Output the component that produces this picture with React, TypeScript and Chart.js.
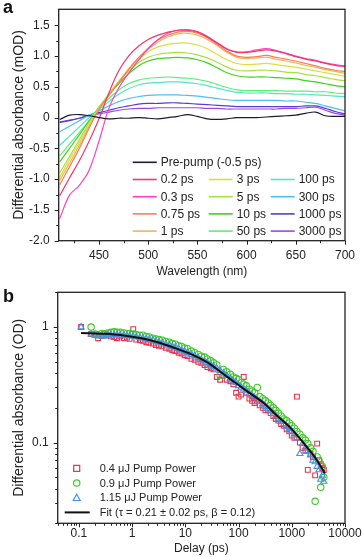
import React, { useEffect, useRef } from "react";
import { Chart, registerables } from "chart.js";
Chart.register(...registerables);

const FONT = "'Liberation Sans', Arial, sans-serif";

// ---------- Panel a: transient spectra ----------
const wavelengths = [410, 420, 430, 440, 450, 460, 470, 480, 490, 500, 510, 520, 530, 540, 550, 560, 570, 580, 590, 600, 610, 620, 630, 640, 650, 660, 670, 680, 690, 700];
const prePump = [-0.03, 0.04, 0.05, 0.03, 0.0, -0.02, -0.01, -0.01, 0.0, -0.01, -0.02, 0.0, 0.02, 0.05, 0.02, -0.02, -0.03, -0.02, 0.0, 0.0, 0.0, 0.01, 0.02, 0.03, 0.04, 0.07, 0.09, 0.03, 0.02, 0.02];
const ps0_2 = [-1.27, -0.98, -0.7, -0.38, -0.02, 0.4, 0.76, 1.0, 1.16, 1.27, 1.34, 1.39, 1.42, 1.42, 1.39, 1.31, 1.21, 1.11, 1.06, 1.06, 1.08, 1.1, 1.08, 1.04, 0.99, 0.95, 0.92, 0.88, 0.85, 0.83];
const ps0_3 = [-1.64, -1.26, -1.1, -0.85, -0.38, 0.15, 0.48, 0.72, 0.93, 1.12, 1.27, 1.37, 1.42, 1.43, 1.4, 1.32, 1.22, 1.12, 1.07, 1.07, 1.1, 1.12, 1.09, 1.05, 1.0, 0.96, 0.93, 0.89, 0.86, 0.84];
const ps0_75 = [-1.09, -0.8, -0.5, -0.17, 0.14, 0.36, 0.57, 0.78, 0.97, 1.13, 1.26, 1.34, 1.39, 1.4, 1.37, 1.3, 1.19, 1.08, 1.0, 0.98, 0.99, 1.01, 0.98, 0.95, 0.92, 0.88, 0.84, 0.8, 0.77, 0.75];
const ps1 = [-1.02, -0.74, -0.45, -0.14, 0.15, 0.37, 0.58, 0.79, 0.97, 1.11, 1.23, 1.31, 1.36, 1.37, 1.34, 1.27, 1.17, 1.06, 0.98, 0.96, 0.97, 0.98, 0.95, 0.92, 0.89, 0.85, 0.82, 0.78, 0.75, 0.72];
const ps3 = [-0.97, -0.68, -0.4, -0.11, 0.16, 0.38, 0.59, 0.78, 0.94, 1.07, 1.15, 1.19, 1.21, 1.21, 1.18, 1.12, 1.03, 0.94, 0.88, 0.86, 0.87, 0.88, 0.86, 0.84, 0.82, 0.79, 0.76, 0.73, 0.7, 0.67];
const ps5 = [-0.9, -0.63, -0.36, -0.08, 0.17, 0.38, 0.58, 0.75, 0.89, 0.98, 1.03, 1.05, 1.06, 1.05, 1.02, 0.97, 0.9, 0.82, 0.77, 0.76, 0.77, 0.77, 0.76, 0.74, 0.73, 0.7, 0.68, 0.65, 0.62, 0.6];
const ps10 = [-0.72, -0.5, -0.28, -0.05, 0.17, 0.37, 0.55, 0.71, 0.84, 0.92, 0.96, 0.97, 0.98, 0.97, 0.94, 0.89, 0.81, 0.73, 0.68, 0.66, 0.66, 0.66, 0.65, 0.64, 0.63, 0.6, 0.58, 0.55, 0.52, 0.5];
const ps50 = [-0.62, -0.43, -0.24, -0.05, 0.14, 0.31, 0.45, 0.55, 0.61, 0.64, 0.65, 0.66, 0.65, 0.64, 0.62, 0.59, 0.54, 0.49, 0.45, 0.44, 0.44, 0.44, 0.44, 0.43, 0.43, 0.43, 0.42, 0.42, 0.4, 0.39];
const ps100 = [-0.45, -0.3, -0.15, 0.0, 0.13, 0.26, 0.38, 0.47, 0.53, 0.56, 0.57, 0.58, 0.58, 0.57, 0.55, 0.52, 0.48, 0.44, 0.41, 0.4, 0.4, 0.4, 0.39, 0.39, 0.38, 0.38, 0.37, 0.36, 0.35, 0.34];
const ps300 = [-0.23, -0.14, -0.05, 0.04, 0.11, 0.19, 0.26, 0.31, 0.34, 0.36, 0.37, 0.37, 0.37, 0.36, 0.35, 0.33, 0.31, 0.29, 0.28, 0.28, 0.28, 0.28, 0.28, 0.27, 0.27, 0.25, 0.23, 0.19, 0.15, 0.11];
const ps1000 = [-0.08, -0.05, -0.01, 0.04, 0.08, 0.12, 0.16, 0.19, 0.22, 0.23, 0.23, 0.24, 0.24, 0.23, 0.22, 0.21, 0.2, 0.19, 0.18, 0.18, 0.18, 0.18, 0.18, 0.18, 0.18, 0.19, 0.19, 0.15, 0.1, 0.06];
const ps3000 = [-0.07, -0.04, -0.01, 0.03, 0.06, 0.09, 0.12, 0.14, 0.15, 0.15, 0.16, 0.16, 0.16, 0.16, 0.16, 0.15, 0.15, 0.14, 0.14, 0.14, 0.14, 0.14, 0.14, 0.15, 0.15, 0.16, 0.17, 0.12, 0.07, 0.04];

const spectraLabels = ["Pre-pump (-0.5 ps)", "0.2 ps", "0.3 ps", "0.75 ps", "1 ps", "3 ps", "5 ps", "10 ps", "50 ps", "100 ps", "300 ps", "1000 ps", "3000 ps"];
const spectraValues = [prePump, ps0_2, ps0_3, ps0_75, ps1, ps3, ps5, ps10, ps50, ps100, ps300, ps1000, ps3000];
const spectraColors = ["#1b1b33", "#f0386b", "#ff3fc4", "#f5834f", "#efb55a", "#dede3a", "#a6e23c", "#3fd31a", "#5cf07a", "#50e8c0", "#4cc0ee", "#5a3ad0", "#9a48e8"];
const wavelengthTicks = [450, 500, 550, 600, 650, 700];
const wavelengthMinor = [425, 475, 525, 575, 625, 675];
const absTicks = [-2.0, -1.5, -1.0, -0.5, 0, 0.5, 1.0, 1.5];
const absMinor = [-1.75, -1.25, -0.75, -0.25, 0.25, 0.75, 1.25];

// ---------- Panel b: decay kinetics ----------
const delays = [
  0.11, 0.14, 0.17, 0.2, 0.23, 0.27, 0.3, 0.35, 0.4, 0.46,
  0.52, 0.6, 0.7, 0.8, 0.9, 1.05, 1.2, 1.4, 1.6, 1.85,
  2.1, 2.45, 2.8, 3.2, 3.7, 4.3, 5, 5.7, 6.5, 7.5,
  8.5, 9.7, 11, 13, 15, 17.5, 20, 23, 26, 30,
  34, 39, 45, 52, 60, 70, 80, 90, 100, 112,
  125, 140, 160, 180, 200, 225, 250, 285, 320, 360,
  400, 450, 500, 560, 630, 710, 800, 900, 1000, 1120,
  1250, 1420, 1600, 1800, 2000, 2250, 2500, 2750, 3000, 3250,
  3500, 3750, 4000,
];
const power04 = [
  1.0, null, 0.87, 0.86, 0.8, 0.84, 0.88, 0.86, 0.83, 0.82,
  0.8, 0.83, 0.8, 0.81, 0.79, 0.96, 0.78, 0.77, 0.76, 0.74,
  0.73, 0.72, 0.7, 0.69, 0.68, 0.66, 0.65, 0.63, 0.62, 0.6,
  0.59, 0.57, 0.56, 0.53, 0.52, 0.5, 0.49, 0.47, 0.45, 0.44,
  0.43, 0.37, 0.35, 0.38, 0.35, 0.34, 0.32, 0.27, 0.25, 0.26,
  0.37, 0.27, 0.24, 0.23, 0.22, 0.23, 0.21, 0.2, 0.19, 0.19,
  0.18, 0.17, 0.16, 0.155, 0.145, 0.14, 0.13, 0.125, 0.115, 0.11,
  0.25, 0.1, 0.09, 0.085, 0.058, 0.08, 0.075, 0.052, 0.098, 0.07,
  0.065, 0.06, 0.058,
];
const power09 = [
  null, null, 1.0, 0.87, 0.86, 0.88, 0.87, 0.89, 0.9, 0.91,
  0.9, 0.9, 0.89, 0.88, 0.88, 0.87, 0.86, 0.85, 0.85, 0.83,
  0.82, 0.8, 0.79, 0.78, 0.77, 0.75, 0.74, 0.72, 0.71, 0.69,
  0.68, 0.66, 0.65, 0.62, 0.6, 0.58, 0.56, 0.55, 0.53, 0.51,
  0.49, 0.47, 0.38, 0.43, 0.41, 0.39, 0.37, 0.36, 0.35, 0.33,
  0.32, 0.31, 0.29, 0.28, 0.27, 0.3, 0.25, 0.24, 0.23, 0.22,
  0.21, 0.2, 0.19, 0.18, 0.17, 0.16, 0.155, 0.148, 0.14, 0.133,
  0.125, 0.118, 0.11, 0.105, 0.098, 0.09, 0.084, 0.031, 0.075, 0.07,
  0.041, 0.062, 0.05,
];
const power115 = [
  1.0, null, 0.87, 0.85, 0.84, 0.84, 0.83, 0.85, 0.86, 0.85,
  0.86, 0.85, 0.85, 0.84, 0.84, 0.83, 0.82, 0.81, 0.8, 0.79,
  0.78, 0.77, 0.75, 0.74, 0.73, 0.71, 0.7, 0.68, 0.67, 0.65,
  0.63, 0.62, 0.6, 0.58, 0.56, 0.54, 0.52, 0.51, 0.49, 0.47,
  0.455, 0.44, 0.42, 0.4, 0.38, 0.36, 0.34, 0.33, 0.31, 0.3,
  0.29, 0.28, 0.265, 0.255, 0.245, 0.235, 0.225, 0.215, 0.205, 0.195,
  0.188, 0.178, 0.17, 0.16, 0.152, 0.145, 0.138, 0.132, 0.125, 0.118,
  0.11, 0.08, 0.098, 0.09, 0.085, 0.078, 0.07, 0.068, 0.062, 0.058,
  0.048, 0.052, 0.046,
];
const fitDelays = [0.11, 0.3, 0.65, 1.5, 2.8, 6, 12, 25, 67, 150, 290, 500, 917, 1900, 3000, 4200];
const fitValues = [0.89, 0.875, 0.85, 0.8, 0.745, 0.665, 0.59, 0.5, 0.36, 0.275, 0.222, 0.175, 0.136, 0.092, 0.07, 0.054];
const delayTicks = [0.1, 1, 10, 100, 1000, 10000];
const odTicks = [0.1, 1];

function minorLog(min: number, max: number) {
  const out: number[] = [];
  for (let d = 0.01; d <= 10000; d *= 10) {
    for (let k = 2; k <= 9; k++) {
      const v = +(k * d).toPrecision(3);
      if (v >= min && v <= max) out.push(v);
    }
  }
  return out;
}

function framePlugin(majX: number[], minX: number[], majY: number[], minY: number[]) {
  return {
    id: "frame",
    afterDraw(chart: any) {
      const { ctx, chartArea, scales } = chart;
      const { left, top, right, bottom } = chartArea;
      ctx.save();
      ctx.strokeStyle = "#222";
      ctx.lineWidth = 1.3;
      ctx.strokeRect(left, top, right - left, bottom - top);
      ctx.lineWidth = 1;
      const tx = (v: number, len: number) => {
        const p = Math.round(scales.x.getPixelForValue(v)) + 0.5;
        ctx.beginPath();
        ctx.moveTo(p, bottom);
        ctx.lineTo(p, bottom + len);
        ctx.stroke();
      };
      const ty = (v: number, len: number) => {
        const p = Math.round(scales.y.getPixelForValue(v)) + 0.5;
        ctx.beginPath();
        ctx.moveTo(left, p);
        ctx.lineTo(left - len, p);
        ctx.stroke();
      };
      majX.forEach((v) => tx(v, 4));
      minX.forEach((v) => tx(v, 2.5));
      majY.forEach((v) => ty(v, 4));
      minY.forEach((v) => ty(v, 2.5));
      ctx.restore();
    },
  };
}

function spectraLegend() {
  return {
    id: "spectraLegend",
    afterDraw(chart: any) {
      const { ctx, chartArea } = chart;
      const x0 = chartArea.left;
      const y0 = chartArea.top;
      const cols = [74, 150, 212];
      const rowH = 17.2;
      const slots: [number, number][] = [
        [0, 0], [0, 1], [0, 2], [0, 3], [0, 4],
        [1, 1], [1, 2], [1, 3], [1, 4],
        [2, 1], [2, 2], [2, 3], [2, 4],
      ];
      ctx.save();
      ctx.font = `12px ${FONT}`;
      ctx.textBaseline = "middle";
      ctx.fillStyle = "#222";
      spectraLabels.forEach((label, i) => {
        const [c, r] = slots[i];
        const lx = x0 + cols[c];
        const ly = y0 + 153 + r * rowH;
        ctx.strokeStyle = spectraColors[i];
        ctx.lineWidth = 1.6;
        ctx.beginPath();
        ctx.moveTo(lx, ly);
        ctx.lineTo(lx + 24, ly);
        ctx.stroke();
        ctx.fillText(label, lx + 28, ly + 0.5);
      });
      ctx.restore();
    },
  };
}

const decayLabels = ["0.4 \u03bcJ Pump Power", "0.9 \u03bcJ Pump Power", "1.15 \u03bcJ Pump Power", "Fit (\u03c4 = 0.21 \u00b1 0.02 ps, \u03b2 = 0.12)"];
const decayColors = ["#e83450", "#40c828", "#4a8fe0", "#111111"];
const decayStyles = ["rect", "circle", "triangle", "line"];

function decayLegend() {
  return {
    id: "decayLegend",
    afterDraw(chart: any) {
      const { ctx, chartArea } = chart;
      const x0 = chartArea.left;
      const y0 = chartArea.top;
      ctx.save();
      ctx.font = `11px ${FONT}`;
      ctx.textBaseline = "middle";
      decayLabels.forEach((label, i) => {
        const cx = x0 + 19;
        const cy = y0 + 176 + i * 14.7;
        ctx.strokeStyle = decayColors[i];
        ctx.lineWidth = 1.2;
        const s = decayStyles[i];
        ctx.beginPath();
        if (s === "rect") ctx.rect(cx - 3, cy - 3, 6, 6);
        else if (s === "circle") ctx.arc(cx, cy, 3.2, 0, Math.PI * 2);
        else if (s === "triangle") {
          ctx.moveTo(cx, cy - 3.5);
          ctx.lineTo(cx + 3.5, cy + 2.8);
          ctx.lineTo(cx - 3.5, cy + 2.8);
          ctx.closePath();
        } else {
          ctx.lineWidth = 2;
          ctx.moveTo(cx - 12, cy);
          ctx.lineTo(cx + 13, cy);
        }
        ctx.stroke();
        ctx.fillStyle = "#222";
        ctx.fillText(label, x0 + 42, cy + 0.5);
      });
      ctx.restore();
    },
  };
}

const noPadX = (h: number) => (s: any) => { s.height = h; s.paddingLeft = 0; s.paddingRight = 0; };
const noPadY = (w: number) => (s: any) => { s.width = w; s.paddingTop = 0; s.paddingBottom = 0; };

function SpectraChart() {
  const ref = useRef<HTMLCanvasElement>(null);
  useEffect(() => {
    const chart = new Chart(ref.current!, {
      type: "line",
      data: {
        datasets: spectraLabels.map((label, i) => ({
          label,
          data: wavelengths.map((w, j) => ({ x: w, y: spectraValues[i][j] })),
          borderColor: spectraColors[i],
          borderWidth: 1.2,
          pointRadius: 0,
          tension: 0.35,
          fill: false,
        })),
      },
      options: {
        animation: false,
        responsive: false,
        devicePixelRatio: 1,
        layout: { padding: { left: 0, right: 17, top: 9.3, bottom: 0 } },
        plugins: { legend: { display: false }, tooltip: { enabled: false } },
        scales: {
          x: {
            type: "linear",
            min: 409,
            max: 700,
            afterBuildTicks: (s: any) => { s.ticks = wavelengthTicks.map((v) => ({ value: v })); },
            afterFit: noPadX(39.3),
            grid: { display: false, drawTicks: false },
            border: { display: false },
            ticks: { padding: 8, color: "#222", font: { family: FONT, size: 12 }, maxRotation: 0 },
            title: { display: true, text: "Wavelength (nm)", color: "#222", font: { family: FONT, size: 12 }, padding: { top: 0, bottom: 1 } },
          },
          y: {
            type: "linear",
            min: -2.0,
            max: 1.76,
            afterBuildTicks: (s: any) => { s.ticks = absTicks.map((v) => ({ value: v })); },
            afterFit: noPadY(58.7),
            grid: { display: false, drawTicks: false },
            border: { display: false },
            ticks: { padding: 9, color: "#222", font: { family: FONT, size: 12 }, callback: (v: any) => (v === 0 ? "0" : Number(v).toFixed(1)) },
            title: { display: true, text: "Differential absorbance (mOD)", color: "#222", font: { family: FONT, size: 14 }, padding: { top: 10.5, bottom: 0 } },
          },
        },
      },
      plugins: [framePlugin(wavelengthTicks, wavelengthMinor, absTicks, absMinor), spectraLegend()],
    } as any);
    return () => chart.destroy();
  }, []);
  return <canvas ref={ref} width={362} height={280} style={{ display: "block", width: 362, height: 280 }} />;
}

function DecayChart() {
  const ref = useRef<HTMLCanvasElement>(null);
  useEffect(() => {
    const mk = (vals: (number | null)[]) =>
      delays.map((t, j) => ({ x: t, y: vals[j] })).filter((p) => p.y !== null && p.y !== undefined);
    const chart = new Chart(ref.current!, {
      type: "scatter",
      data: {
        datasets: [
          {
            type: "line",
            label: decayLabels[3],
            data: fitDelays.map((t, j) => ({ x: t, y: fitValues[j] })),
            borderColor: decayColors[3],
            borderWidth: 2,
            pointRadius: 0,
            cubicInterpolationMode: "monotone",
            fill: false,
          },
          {
            label: decayLabels[2],
            data: mk(power115),
            pointStyle: "triangle",
            pointRadius: 3.6,
            borderColor: decayColors[2],
            backgroundColor: "rgba(0,0,0,0)",
            borderWidth: 1.1,
          },
          {
            label: decayLabels[1],
            data: mk(power09),
            pointStyle: "circle",
            pointRadius: 3.2,
            borderColor: decayColors[1],
            backgroundColor: "rgba(0,0,0,0)",
            borderWidth: 1.1,
          },
          {
            label: decayLabels[0],
            data: mk(power04),
            pointStyle: "rect",
            pointRadius: 3.4,
            borderColor: decayColors[0],
            backgroundColor: "rgba(0,0,0,0)",
            borderWidth: 1.1,
          },
        ],
      },
      options: {
        animation: false,
        responsive: false,
        devicePixelRatio: 1,
        layout: { padding: { left: 0, right: 17, top: 12.3, bottom: 0 } },
        plugins: { legend: { display: false }, tooltip: { enabled: false } },
        scales: {
          x: {
            type: "logarithmic",
            min: 0.04,
            max: 10000,
            afterBuildTicks: (s: any) => { s.ticks = delayTicks.map((v) => ({ value: v })); },
            afterFit: noPadX(33.7),
            grid: { display: false, drawTicks: false },
            border: { display: false },
            ticks: { padding: 3.5, color: "#222", font: { family: FONT, size: 12 }, maxRotation: 0, callback: (v: any) => String(v) },
            title: { display: true, text: "Delay (ps)", color: "#222", font: { family: FONT, size: 12 }, padding: { top: 0, bottom: 1.5 } },
          },
          y: {
            type: "logarithmic",
            min: 0.02,
            max: 2,
            afterBuildTicks: (s: any) => { s.ticks = odTicks.map((v) => ({ value: v })); },
            afterFit: noPadY(57.7),
            grid: { display: false, drawTicks: false },
            border: { display: false },
            ticks: { padding: 9, color: "#222", font: { family: FONT, size: 12 }, callback: (v: any) => String(v) },
            title: { display: true, text: "Differential absorbance (OD)", color: "#222", font: { family: FONT, size: 14 }, padding: { top: 10.5, bottom: 0 } },
          },
        },
      },
      plugins: [framePlugin(delayTicks, minorLog(0.04, 10000), odTicks, minorLog(0.02, 2)), decayLegend()],
    } as any);
    return () => chart.destroy();
  }, []);
  return <canvas ref={ref} width={362} height={277} style={{ display: "block", width: 362, height: 277 }} />;
}

const panelLabel: React.CSSProperties = {
  position: "absolute",
  left: 3,
  fontFamily: FONT,
  fontWeight: "bold",
  fontSize: 18,
  lineHeight: "18px",
  color: "#111",
};

export default function App() {
  return (
    <div style={{ position: "absolute", left: 0, top: 0, width: 362, height: 557, background: "#fff" }}>
      <div style={{ position: "absolute", left: 0, top: 0 }}>
        <SpectraChart />
      </div>
      <div style={{ position: "absolute", left: 0, top: 280 }}>
        <DecayChart />
      </div>
      <div style={{ ...panelLabel, top: -2 }}>a</div>
      <div style={{ ...panelLabel, top: 287 }}>b</div>
    </div>
  );
}
